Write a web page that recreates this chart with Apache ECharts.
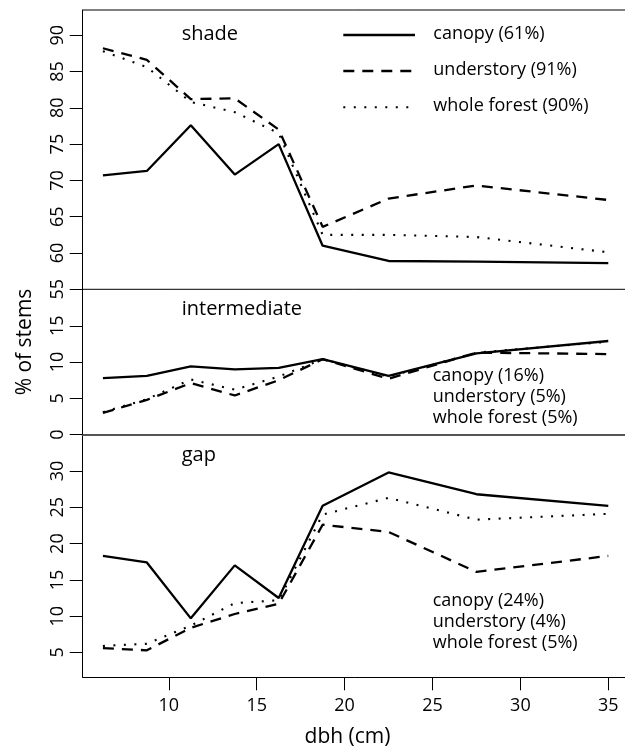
<!DOCTYPE html>
<html>
<head>
<meta charset="utf-8">
<script src="https://cdn.jsdelivr.net/npm/echarts@6/dist/echarts.min.js"></script>
<style>html,body{margin:0;padding:0;background:#fff}#c{width:625px;height:751px}</style>
</head>
<body>
<div id="c"></div>
<script>
const dbh = [6.25, 8.75, 11.25, 13.75, 16.25, 18.75, 22.5, 27.5, 35];

const shadeCanopy = [70.7, 71.3, 77.6, 70.8, 75.0, 61.0, 58.9, 58.8, 58.6];
const shadeUnder  = [88.2, 86.6, 81.2, 81.3, 77.0, 63.6, 67.5, 69.3, 67.3];
const shadeWhole  = [87.8, 85.6, 80.8, 79.4, 76.5, 62.5, 62.5, 62.2, 60.1];

const interCanopy = [7.8, 8.1, 9.4, 9.0, 9.2, 10.4, 8.1, 11.2, 12.9];
const interUnder  = [3.0, 4.8, 7.1, 5.4, 7.5, 10.4, 7.7, 11.3, 11.1];
const interWhole  = [3.1, 4.9, 7.6, 6.2, 8.0, 10.4, 8.0, 11.3, 12.8];

const gapCanopy = [18.3, 17.4, 9.7, 17.0, 12.5, 25.2, 29.8, 26.8, 25.2];
const gapUnder  = [5.6, 5.3, 8.4, 10.3, 11.7, 22.6, 21.6, 16.1, 18.3];
const gapWhole  = [5.9, 6.2, 8.7, 11.8, 12.2, 24.0, 26.3, 23.3, 24.1];

const shadeTicks = [55, 60, 65, 70, 75, 80, 85, 90];
const interTicks = [0, 5, 10, 15];
const gapTicks = [5, 10, 15, 20, 25, 30];
const dbhTicks = [10, 15, 20, 25, 30, 35];

const panelTitles = ['shade', 'intermediate', 'gap'];
const legendShade = ['canopy (61%)', 'understory (91%)', 'whole forest (90%)'];
const legendInter = ['canopy (16%)', 'understory (5%)', 'whole forest (5%)'];
const legendGap = ['canopy (24%)', 'understory (4%)', 'whole forest (5%)'];

const FONT = '"Open Sans", "Noto Sans", sans-serif';
const pairs = (ys) => dbh.map((x, i) => [x, ys[i]]);

const solid = { color: '#000', width: 2.3, type: 'solid' };
const dashed = { color: '#000', width: 2.3, type: [11, 8], cap: 'butt' };
const dotted = { color: '#000', width: 2.1, type: [2, 8.5], cap: 'butt' };
const styles = [solid, dashed, dotted];

const gridLeft = 82.7, gridWidth = 545.8;
const grids = [
  { left: gridLeft, top: 10, width: gridWidth, height: 279.3 },
  { left: gridLeft, top: 289.3, width: gridWidth, height: 145.4 },
  { left: gridLeft, top: 435, width: gridWidth, height: 242.3 }
];
const yRanges = [[55, 93.47], [0, 20.02], [1.58, 34.96]];
const yTicks = [shadeTicks, interTicks, gapTicks];

const xAxes = grids.map((g, i) => ({
  type: 'value', gridIndex: i, min: 5.1, max: 36.15,
  axisLine: { show: i > 0, lineStyle: i === 1 ? { color: '#555', width: 2 } : { color: '#000', width: 1 } },
  axisTick: { show: i === 2, length: 13, lineStyle: { color: '#000', width: 1 }, customValues: dbhTicks },
  axisLabel: { show: i === 2, customValues: dbhTicks, margin: 20, color: '#000', fontSize: 18, fontFamily: FONT },
  splitLine: { show: false }
}));
const yAxes = grids.map((g, i) => ({
  type: 'value', gridIndex: i, min: yRanges[i][0], max: yRanges[i][1],
  axisLine: { show: true, lineStyle: { color: '#000', width: 1 } },
  axisTick: { show: true, length: 13, lineStyle: { color: '#000', width: 1 }, customValues: yTicks[i] },
  axisLabel: { show: true, rotate: 90, customValues: yTicks[i], margin: 16, color: '#000', fontSize: 18, fontFamily: FONT },
  splitLine: { show: false }
}));

const panelData = [
  [shadeCanopy, shadeUnder, shadeWhole],
  [interCanopy, interUnder, interWhole],
  [gapCanopy, gapUnder, gapWhole]
];
const seriesNames = ['canopy', 'understory', 'whole forest'];
const series = [];
panelData.forEach((set, p) => {
  set.forEach((ys, k) => {
    series.push({
      type: 'line', name: panelTitles[p] + ' ' + seriesNames[k],
      xAxisIndex: p, yAxisIndex: p, data: pairs(ys),
      symbol: 'none', silent: true, animation: false,
      lineStyle: styles[k]
    });
  });
});

const textStyle = (t, x, y, size) => ({
  type: 'text', x: x, y: y, silent: true,
  style: { text: t, fill: '#000', font: size + 'px ' + FONT, textAlign: 'left', textVerticalAlign: 'middle' }
});

const graphics = [];
// panel titles
[34, 309.7, 455].forEach((y, i) => graphics.push(textStyle(panelTitles[i], 181.7, y, 20)));
// shade legend with line keys
const legY = [35, 71, 107.3];
legY.forEach((y, i) => {
  graphics.push({ type: 'line', silent: true, shape: { x1: 343.3, y1: y, x2: 415, y2: y }, style: Object.assign({ stroke: '#000', lineWidth: styles[i].width, lineCap: 'butt' }, i === 0 ? {} : { lineDash: styles[i].type }) });
  graphics.push(textStyle(legendShade[i], 433.3, y - 1, 18));
});
[376, 397, 418].forEach((y, i) => graphics.push(textStyle(legendInter[i], 432.7, y, 18)));
[601, 622, 643].forEach((y, i) => graphics.push(textStyle(legendGap[i], 432.7, y, 18)));
// axis titles
graphics.push({ type: 'text', silent: true, x: 347.5, y: 737, style: { text: 'dbh (cm)', fill: '#000', font: '21px ' + FONT, textAlign: 'center', textVerticalAlign: 'middle' } });
graphics.push({ type: 'text', silent: true, x: 25, y: 342, rotation: Math.PI / 2, style: { text: '% of stems', fill: '#000', font: '21px ' + FONT, textAlign: 'center', textVerticalAlign: 'middle' } });
// top border of shade panel
graphics.push({ type: 'line', silent: true, shape: { x1: gridLeft, y1: 10, x2: 625, y2: 10 }, style: { stroke: '#000', lineWidth: 1 } });
graphics.push({ type: 'line', silent: true, shape: { x1: gridLeft, y1: 289.3, x2: 625, y2: 289.3 }, style: { stroke: '#000', lineWidth: 1 } });

const chart = echarts.init(document.getElementById('c'), null, { renderer: 'canvas' });
chart.setOption({
  backgroundColor: '#fff',
  animation: false,
  grid: grids.map(g => Object.assign({ show: false, containLabel: false, outerBoundsMode: 'none' }, g)),
  xAxis: xAxes,
  yAxis: yAxes,
  series: series,
  graphic: graphics
});
</script>
</body>
</html>
